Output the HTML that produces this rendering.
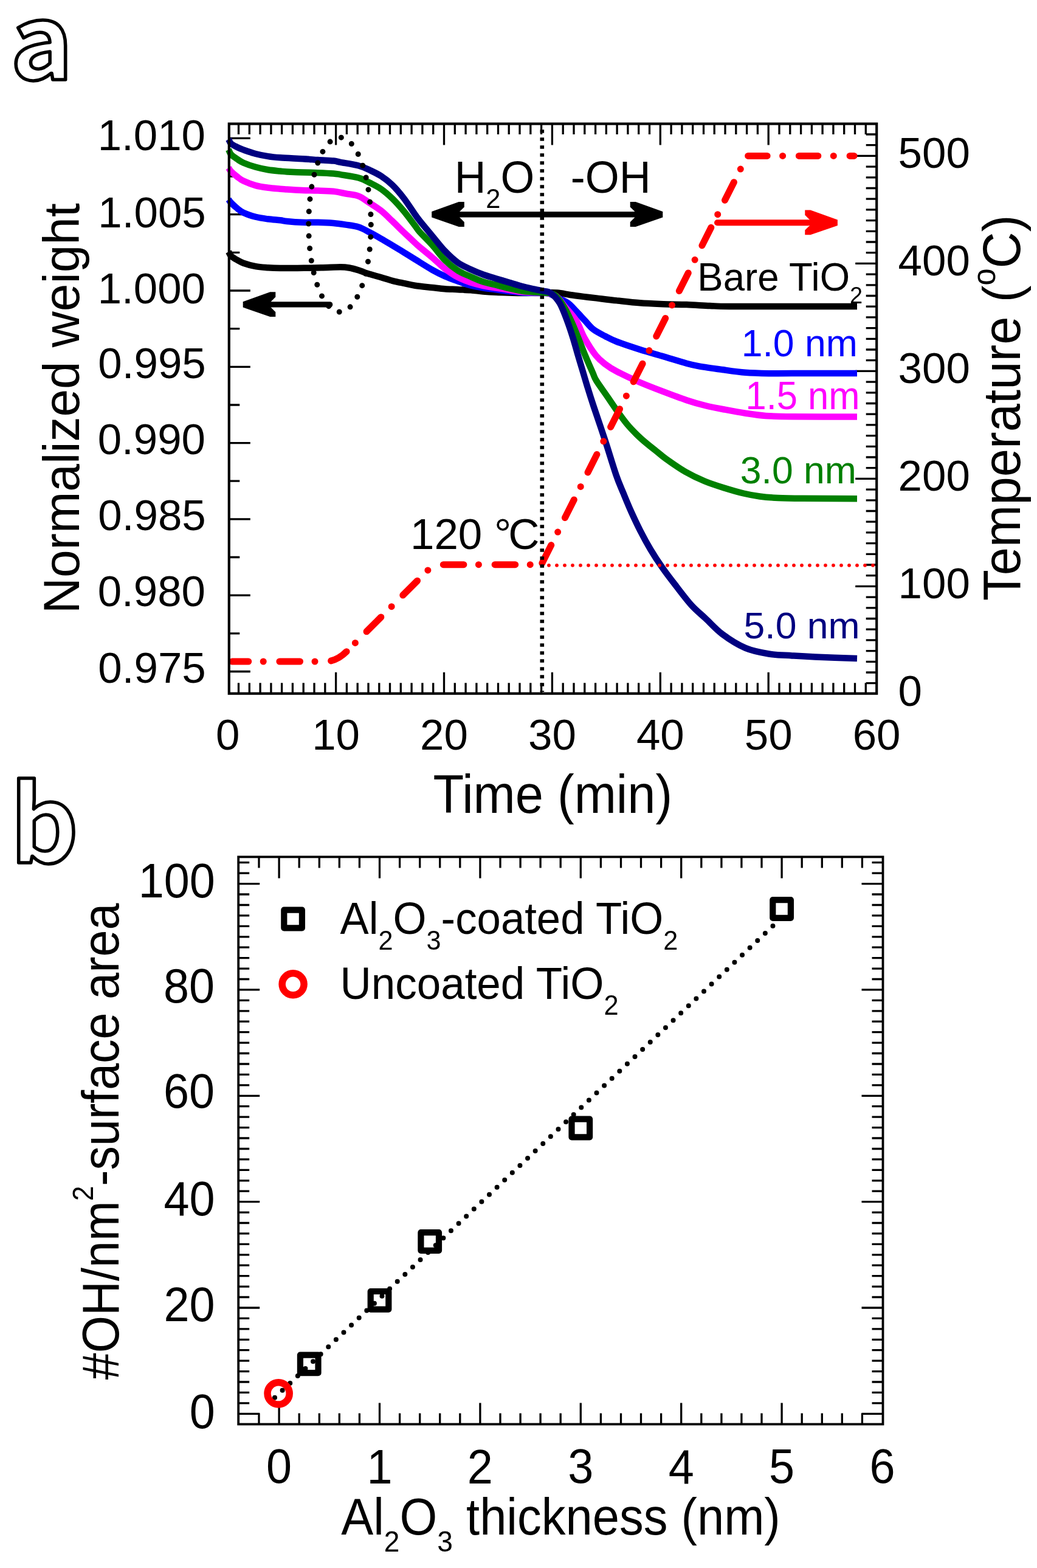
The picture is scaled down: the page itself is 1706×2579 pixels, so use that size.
<!DOCTYPE html><html><head><meta charset="utf-8"><title>Figure</title><style>html,body{margin:0;padding:0;background:#fff}svg{display:block}text{font-family:"Liberation Sans", Arial, sans-serif}</style></head><body>
<svg xmlns="http://www.w3.org/2000/svg" width="1706" height="2579" viewBox="0 0 1706 2579">
<rect width="1706" height="2579" fill="#fff"/>
<text transform="translate(17.3 130.6) scale(1 0.98)" style="font-family:'Noto Sans CJK JP','Noto Sans CJK SC',sans-serif" font-weight="bold" font-size="174" fill="#fff" stroke="#000" stroke-width="5.6" stroke-linejoin="round">a</text>
<text transform="translate(17.1 1419.2) scale(1 1)" style="font-family:'Noto Sans CJK JP','Noto Sans CJK SC',sans-serif" font-weight="bold" font-size="174" fill="#fff" stroke="#000" stroke-width="5.6" stroke-linejoin="round">b</text>
<path d="M392.5 1140.7V1123.2M392.5 203.6V221.1M410.3 1140.7V1123.2M410.3 203.6V221.1M428.1 1140.7V1123.2M428.1 203.6V221.1M445.9 1140.7V1123.2M445.9 203.6V221.1M463.6 1140.7V1123.2M463.6 203.6V221.1M481.4 1140.7V1123.2M481.4 203.6V221.1M499.2 1140.7V1123.2M499.2 203.6V221.1M517 1140.7V1123.2M517 203.6V221.1M534.8 1140.7V1123.2M534.8 203.6V221.1M552.6 1140.7V1105.7M552.6 203.6V238.6M570.4 1140.7V1123.2M570.4 203.6V221.1M588.2 1140.7V1123.2M588.2 203.6V221.1M606 1140.7V1123.2M606 203.6V221.1M623.8 1140.7V1123.2M623.8 203.6V221.1M641.5 1140.7V1123.2M641.5 203.6V221.1M659.3 1140.7V1123.2M659.3 203.6V221.1M677.1 1140.7V1123.2M677.1 203.6V221.1M694.9 1140.7V1123.2M694.9 203.6V221.1M712.7 1140.7V1123.2M712.7 203.6V221.1M730.5 1140.7V1105.7M730.5 203.6V238.6M748.3 1140.7V1123.2M748.3 203.6V221.1M766.1 1140.7V1123.2M766.1 203.6V221.1M783.9 1140.7V1123.2M783.9 203.6V221.1M801.7 1140.7V1123.2M801.7 203.6V221.1M819.5 1140.7V1123.2M819.5 203.6V221.1M837.2 1140.7V1123.2M837.2 203.6V221.1M855 1140.7V1123.2M855 203.6V221.1M872.8 1140.7V1123.2M872.8 203.6V221.1M890.6 1140.7V1123.2M890.6 203.6V221.1M908.4 1140.7V1105.7M908.4 203.6V238.6M926.2 1140.7V1123.2M926.2 203.6V221.1M944 1140.7V1123.2M944 203.6V221.1M961.8 1140.7V1123.2M961.8 203.6V221.1M979.6 1140.7V1123.2M979.6 203.6V221.1M997.3 1140.7V1123.2M997.3 203.6V221.1M1015.1 1140.7V1123.2M1015.1 203.6V221.1M1032.9 1140.7V1123.2M1032.9 203.6V221.1M1050.7 1140.7V1123.2M1050.7 203.6V221.1M1068.5 1140.7V1123.2M1068.5 203.6V221.1M1086.3 1140.7V1105.7M1086.3 203.6V238.6M1104.1 1140.7V1123.2M1104.1 203.6V221.1M1121.9 1140.7V1123.2M1121.9 203.6V221.1M1139.7 1140.7V1123.2M1139.7 203.6V221.1M1157.5 1140.7V1123.2M1157.5 203.6V221.1M1175.2 1140.7V1123.2M1175.2 203.6V221.1M1193 1140.7V1123.2M1193 203.6V221.1M1210.8 1140.7V1123.2M1210.8 203.6V221.1M1228.6 1140.7V1123.2M1228.6 203.6V221.1M1246.4 1140.7V1123.2M1246.4 203.6V221.1M1264.2 1140.7V1105.7M1264.2 203.6V238.6M1282 1140.7V1123.2M1282 203.6V221.1M1299.8 1140.7V1123.2M1299.8 203.6V221.1M1317.6 1140.7V1123.2M1317.6 203.6V221.1M1335.4 1140.7V1123.2M1335.4 203.6V221.1M1353.1 1140.7V1123.2M1353.1 203.6V221.1M1370.9 1140.7V1123.2M1370.9 203.6V221.1M1388.7 1140.7V1123.2M1388.7 203.6V221.1M1406.5 1140.7V1123.2M1406.5 203.6V221.1M1424.3 1140.7V1123.2M1424.3 203.6V221.1M376.8 227.4H411.8M376.8 290.1H394.3M376.8 352.7H411.8M376.8 415.4H394.3M376.8 478H411.8M376.8 540.6H394.3M376.8 603.3H411.8M376.8 666H394.3M376.8 728.6H411.8M376.8 791.2H394.3M376.8 853.9H411.8M376.8 916.5H394.3M376.8 979.2H411.8M376.8 1041.8H394.3M376.8 1104.5H411.8M1442.2 1123.7H1424.7M1442.2 1106H1424.7M1442.2 1088.3H1424.7M1442.2 1070.6H1424.7M1442.2 1052.9H1424.7M1442.2 1035.2H1424.7M1442.2 1017.5H1424.7M1442.2 999.8H1424.7M1442.2 982.1H1424.7M1442.2 964.4H1407.2M1442.2 946.7H1424.7M1442.2 929H1424.7M1442.2 911.3H1424.7M1442.2 893.6H1424.7M1442.2 875.9H1424.7M1442.2 858.2H1424.7M1442.2 840.5H1424.7M1442.2 822.8H1424.7M1442.2 805.1H1424.7M1442.2 787.4H1407.2M1442.2 769.7H1424.7M1442.2 752H1424.7M1442.2 734.3H1424.7M1442.2 716.6H1424.7M1442.2 698.9H1424.7M1442.2 681.2H1424.7M1442.2 663.5H1424.7M1442.2 645.8H1424.7M1442.2 628.1H1424.7M1442.2 610.4H1407.2M1442.2 592.7H1424.7M1442.2 575H1424.7M1442.2 557.3H1424.7M1442.2 539.6H1424.7M1442.2 521.9H1424.7M1442.2 504.2H1424.7M1442.2 486.5H1424.7M1442.2 468.8H1424.7M1442.2 451.1H1424.7M1442.2 433.4H1407.2M1442.2 415.7H1424.7M1442.2 398H1424.7M1442.2 380.3H1424.7M1442.2 362.6H1424.7M1442.2 344.9H1424.7M1442.2 327.2H1424.7M1442.2 309.5H1424.7M1442.2 291.8H1424.7M1442.2 274.1H1424.7M1442.2 256.4H1407.2M1442.2 238.7H1424.7M1442.2 221H1424.7" stroke="#000" stroke-width="3.3" fill="none"/>
<g fill="none" stroke-width="10.5" stroke-linejoin="round">
<path d="M376 414 C376.7 415.2 377.8 418.8 380.1 421 C382.4 423.2 386.6 425.6 390 427.5 C393.4 429.4 395.3 430.9 400.4 432.7 C405.5 434.5 413.9 436.9 420.6 438.2 C427.4 439.5 434.1 439.8 440.9 440.3 C447.6 440.8 451.2 441 461.1 441.1 C471 441.2 488.8 440.9 500 440.8 C511.2 440.7 518.6 440.6 528.6 440.3 C538.6 440.1 552.4 439.3 560 439.3 C567.6 439.3 569.5 439.6 574.5 440.5 C579.5 441.4 584.3 442.8 590 444.6 C595.7 446.4 602.4 449.2 608.6 451.1 C614.8 453 620.9 454.4 627.1 456.2 C633.3 458 639.5 460.2 645.7 461.8 C651.9 463.4 658 464.6 664.2 465.9 C670.4 467.2 675 468.6 682.8 469.8 C690.6 471 702.9 472.1 711.1 473 C719.3 473.9 725.1 474.7 732.1 475.2 C739.1 475.7 746.2 475.8 753.2 476.2 C760.2 476.6 767.2 476.8 774.2 477.3 C781.2 477.9 788 478.9 795 479.5 C802 480.1 809 480.5 816 480.8 C823 481.1 830.1 481.3 837.1 481.5 C844.1 481.7 848.9 482 858.2 482 C867.5 482 883.3 481.6 893 481.5 C902.7 481.4 909 480.9 916.5 481.5 C924 482.1 930.8 483.9 938 485 C945.2 486.1 952.4 487 959.6 487.9 C966.8 488.8 971.9 489.3 981.1 490.4 C990.3 491.5 1002.8 493.1 1014.8 494.4 C1026.8 495.7 1040.2 497.3 1053 498.3 C1065.8 499.3 1078.5 499.7 1091.3 500.2 C1104.1 500.7 1116.8 500.6 1129.6 501.1 C1142.3 501.6 1156.1 502.5 1167.8 503 C1179.5 503.5 1178 503.8 1200 504 C1222 504.2 1265 504 1300 504 C1335 504 1391.7 504 1410 504" stroke="#000"/>
<path d="M376 328 C376.7 328.9 377.8 331.1 380.1 333.5 C382.4 335.9 386.6 339.8 390 342.5 C393.4 345.2 395.3 347.3 400.4 349.7 C405.5 352.1 413.9 355 420.6 356.8 C427.4 358.6 434.1 359.4 440.9 360.3 C447.6 361.2 455.9 361.7 461.1 362.3 C466.3 362.9 465.9 363.4 472 364 C478.1 364.6 489 365.5 497.5 365.8 C506 366.1 514.5 365.6 523 365.8 C531.5 366 540.9 366.4 548.6 367 C556.3 367.6 562.1 368.5 569 369.6 C575.9 370.7 583.4 371.5 590 373.6 C596.6 375.7 602.4 379.2 608.6 382.4 C614.8 385.6 620.9 389.1 627.1 392.7 C633.3 396.3 639.5 400.1 645.7 403.8 C651.9 407.5 658 411.1 664.2 414.9 C670.4 418.7 675 421.7 682.8 426.5 C690.6 431.3 702.9 439.2 711.1 443.8 C719.3 448.4 725.1 451.3 732.1 454.4 C739.1 457.5 746.2 460 753.2 462.5 C760.2 465 767.2 467.7 774.2 469.5 C781.2 471.3 788 472.4 795 473.5 C802 474.6 809 475.4 816 476.3 C823 477.2 830.1 478.3 837.1 479.1 C844.1 479.9 851.1 480.8 858.2 481.3 C865.4 481.8 872.7 481.8 880 482 C887.3 482.2 895.7 481.2 902 482.5 C908.3 483.8 912.5 487.3 918 490 C923.5 492.7 929.8 495 934.8 498.7 C939.8 502.4 943.4 507.2 948 512 C952.6 516.8 957.7 522.4 962.4 527.4 C967.1 532.4 970.5 537.4 976 541.7 C981.5 546 989.2 549.6 995.7 553 C1002.2 556.4 1005.2 558.3 1014.8 562 C1024.3 565.7 1040.2 571 1053 575 C1065.8 579 1078.5 582.5 1091.3 586.3 C1104.1 590.1 1119.8 595 1129.6 597.7 C1139.4 600.4 1140.2 600.6 1150 602.3 C1159.8 604 1175.5 606.2 1188.3 608 C1201 609.8 1213.8 611.8 1226.5 612.8 C1239.2 613.8 1252 614 1264.8 614.2 C1277.5 614.4 1278.8 614 1303 614 C1327.2 614 1392.2 614 1410 614" stroke="#00f"/>
<path d="M376 276 C376.7 277 377.8 279.5 380.1 281.9 C382.4 284.3 386.6 287.9 390 290.5 C393.4 293.1 395.3 295.2 400.4 297.6 C405.5 300 413.9 303.2 420.6 305.1 C427.4 307 434.1 307.8 440.9 308.7 C447.6 309.6 455.9 310.2 461.1 310.7 C466.3 311.2 465.9 311.1 472 311.5 C478.1 311.9 489 312.6 497.5 312.9 C506 313.2 514.5 313.2 523 313.5 C531.5 313.8 540.9 314 548.6 314.8 C556.3 315.6 562.1 317.2 569 318.5 C575.9 319.8 583.4 320 590 322.6 C596.6 325.2 602.4 330.2 608.6 334.2 C614.8 338.2 620.9 341.8 627.1 346.7 C633.3 351.6 639.5 358 645.7 363.9 C651.9 369.8 658 376.1 664.2 382 C670.4 387.9 678.5 395.5 682.8 399.5 C687.1 403.5 685.3 402 690 406 C694.7 410 704.1 417.5 711.1 423.5 C718.1 429.5 725.1 436.6 732.1 442 C739.1 447.4 746.2 452.2 753.2 456 C760.2 459.8 767.2 462.2 774.2 464.5 C781.2 466.8 788 468.5 795 470 C802 471.5 809 472.4 816 473.5 C823 474.6 830.1 475.7 837.1 476.8 C844.1 477.9 851.1 479.3 858.2 480 C865.4 480.7 873 480.9 880 481.2 C887 481.5 894.2 481 900 482 C905.8 483 910 483.2 915 487 C920 490.8 924.5 498.3 930 505 C935.5 511.7 942.8 518.9 948.1 527.4 C953.4 535.9 956.3 546.5 961.7 556.1 C967.1 565.7 974.7 577.6 980.4 584.8 C986.1 591.9 990 594.6 995.7 599 C1001.4 603.4 1005.2 606 1014.8 611 C1024.3 616 1040.2 623.5 1053 629 C1065.8 634.5 1078.5 639.3 1091.3 644.2 C1104.1 649.1 1118.1 654.4 1129.6 658.2 C1141 662 1149.7 664.5 1160 667 C1170.3 669.5 1180.2 671.4 1191.3 673.5 C1202.4 675.6 1215 678 1226.5 679.7 C1238 681.5 1247.2 683.1 1260 684 C1272.8 684.9 1278 685 1303 685.3 C1328 685.5 1392.2 685.5 1410 685.5" stroke="#f0f"/>
<path d="M376 246 C376.7 247.3 377.8 251.4 380.1 254 C382.4 256.6 386.6 259.2 390 261.5 C393.4 263.8 395.3 265.5 400.4 267.7 C405.5 269.9 413.9 272.9 420.6 274.8 C427.4 276.7 434.1 278.2 440.9 279.3 C447.6 280.4 455.9 281 461.1 281.5 C466.3 282 465.9 282.1 472 282.4 C478.1 282.7 489 283.2 497.5 283.5 C506 283.8 514.5 283.9 523 284.2 C531.5 284.5 542.4 285 548.6 285.5 C554.8 286 553.1 285.9 560 287.1 C566.9 288.3 581.9 290.2 590 292.5 C598.1 294.8 602.4 297.7 608.6 300.8 C614.8 303.9 620.9 306.7 627.1 311 C633.3 315.3 639.5 320.8 645.7 326.8 C651.9 332.8 658 339.8 664.2 347.2 C670.4 354.6 678.5 365.7 682.8 371.3 C687.1 376.9 685.3 375.7 690 381 C694.7 386.3 704.1 395.2 711.1 403 C718.1 410.8 725.1 421 732.1 428 C739.1 435 746.2 440.5 753.2 445 C760.2 449.5 767.2 451.9 774.2 455 C781.2 458.1 788 461.2 795 463.5 C802 465.8 809 466.8 816 468.6 C823 470.4 830.1 472.6 837.1 474.2 C844.1 475.8 851.1 477.4 858.2 478.5 C865.4 479.6 873.5 480 880 480.5 C886.5 481 891.7 480.8 897 481.5 C902.3 482.2 907.3 481.9 912 485 C916.7 488.1 920.4 492.9 925 500 C929.6 507.1 935.2 518.2 939.5 527.4 C943.8 536.6 947.1 545.4 951 555 C954.9 564.6 958.8 575 962.8 584.8 C966.8 594.5 972.3 606.6 975.3 613.5 C978.3 620.4 976.9 619.3 981 626 C985.1 632.7 994.2 645 1000 653.5 C1005.8 662 1010.6 669.3 1015.9 676.7 C1021.2 684.1 1026.6 691.6 1031.9 698 C1037.2 704.4 1042.5 709.7 1047.8 714.9 C1053.1 720.1 1058.5 724.8 1063.8 729.3 C1069.1 733.8 1074.4 737.8 1079.7 742 C1085 746.2 1087.7 749.1 1095.7 754.8 C1103.7 760.5 1117 769.9 1127.6 776 C1138.2 782.1 1148.8 787.1 1159.4 791.5 C1170 795.9 1180.7 799.2 1191.3 802.5 C1201.9 805.8 1213.4 809.2 1223.2 811.5 C1233 813.8 1240.5 815.2 1250 816.5 C1259.5 817.8 1268.3 818.5 1280 819 C1291.7 819.5 1298.3 819.6 1320 819.8 C1341.7 820 1395 820.1 1410 820.2" stroke="#008000"/>
<path d="M376 229 C376.7 230.2 377.8 234.1 380.1 236.3 C382.4 238.5 386.6 240.3 390 242 C393.4 243.7 395.3 244.6 400.4 246.4 C405.5 248.2 413.9 251.2 420.6 253 C427.4 254.8 434.1 256.1 440.9 257.1 C447.6 258.2 451.7 258.6 461.1 259.3 C470.5 260 487.2 260.6 497.5 261.2 C507.8 261.8 514.5 262.5 523 263.1 C531.5 263.7 542.4 264 548.6 264.6 C554.8 265.2 553.1 265.5 560 266.8 C566.9 268.1 581.9 270.3 590 272.5 C598.1 274.7 602.4 277.1 608.6 280 C614.8 282.9 620.9 285.6 627.1 289.7 C633.3 293.8 639.5 298.5 645.7 304.5 C651.9 310.5 658 317.8 664.2 325.9 C670.4 333.9 678.5 346.7 682.8 352.8 C687.1 358.9 685.3 356.6 690 362.5 C694.7 368.4 704.1 379.6 711.1 388 C718.1 396.4 725.1 405.7 732.1 413 C739.1 420.3 746.2 427 753.2 432 C760.2 437 767.2 439.7 774.2 443 C781.2 446.3 788.3 449.2 795.3 451.7 C802.3 454.2 809 456.1 816 458.2 C823 460.3 830.1 462.4 837.1 464.5 C844.1 466.6 851.2 468.9 858.2 470.8 C865.2 472.7 873.4 474.4 879.2 475.7 C885 477 888.7 477.4 893.2 478.5 C897.7 479.6 901.4 478.6 906 482 C910.6 485.4 916.3 491.1 920.8 498.7 C925.3 506.3 929.4 517.8 933 527.4 C936.6 537 939.7 546.5 942.7 556.1 C945.7 565.7 948.2 575.2 951 584.8 C953.8 594.4 957.1 605.1 959.6 613.5 C962.1 621.9 963.2 625.9 966 635 C968.8 644.1 971.5 653 976.5 668 C981.5 683 989.5 706.1 995.7 725 C1001.9 743.9 1008.6 766.7 1013.6 781.2 C1018.6 795.7 1021.6 801.6 1025.8 811.8 C1030 822 1034.2 832.3 1038.8 842.5 C1043.4 852.7 1048.2 862.9 1053.4 873.1 C1058.6 883.3 1064.1 893.5 1070.2 903.7 C1076.3 913.9 1082.9 924.1 1090.1 934.3 C1097.2 944.5 1105.2 954.7 1113.1 964.9 C1121 975.1 1129.7 986.8 1137.6 995.5 C1145.5 1004.2 1152 1009.1 1160.5 1017 C1169 1024.9 1177.3 1034.8 1188.3 1043 C1199.3 1051.2 1213.8 1060.5 1226.5 1065.9 C1239.2 1071.3 1252 1073.4 1264.8 1075.5 C1277.5 1077.6 1290.3 1077.6 1303 1078.4 C1315.7 1079.2 1323.2 1079.7 1341 1080.5 C1358.8 1081.3 1398.5 1082.6 1410 1083" stroke="#000080"/>
</g>
<g fill="none" stroke="#f00" stroke-width="11" stroke-linecap="round" stroke-linejoin="round">
<path d="M382 1088 L535 1088 Q553.8 1088 570.1 1071.7" stroke-dasharray="33.6 24.5 0 26.7" stroke-dashoffset="6.9"/>
<path d="M570.1 1071.7 L706 935.8 Q713.5 928.3 724 928.5" stroke-dasharray="33.6 24.5 0 26.4" stroke-dashoffset="37.9"/>
<path d="M724 928.7 L890.6 928.7" stroke-dasharray="33.6 24.5 0 26.7" stroke-dashoffset="-5.3"/>
<path d="M890.6 928.7 L1229.2 256.4" stroke-dasharray="33.1 24.2 0 26.25" stroke-dashoffset="-2.8"/>
<path d="M1229.2 256.4 L1405 256.4" stroke-dasharray="31.4 25.5 0 26.8" stroke-dashoffset="-1.5"/>
</g>
<path d="M890.6 929.8H1440" stroke="#f00" stroke-width="5.8" stroke-linecap="round" stroke-dasharray="0 13" stroke-dashoffset="0.6" fill="none"/>
<path d="M891.8 212V1138" stroke="#000" stroke-width="6.6" stroke-dasharray="5.6 7.4" stroke-dashoffset="-1.2" fill="none"/>
<ellipse cx="559" cy="369.5" rx="51.3" ry="143.5" fill="none" stroke="#000" stroke-width="9" stroke-linecap="round" stroke-dasharray="0 20.3"/>
<g fill="#000">
<polygon points="710.2,348.1 754.8,332.1 763.8,332.1 763.8,340.4 756.1,348.1 756.1,357.5 763.8,365.2 763.8,372.9 754.8,372.9 710.2,357.5"/>
<polygon points="1090.3,348.1 1045.7,332.1 1036.7,332.1 1036.7,340.4 1044.4,348.1 1044.4,357.5 1036.7,365.2 1036.7,372.9 1045.7,372.9 1090.3,357.5"/>
<rect x="750" y="348.1" width="300" height="9.4"/>
<polygon points="399.7,496.2 444.3,480.2 453.3,480.2 453.3,488.5 445.6,496.2 445.6,505.6 453.3,513.3 453.3,521 444.3,521 399.7,505.6"/>
<path d="M445 500.9H542.6" stroke="#000" stroke-width="9.4" stroke-linecap="round"/>
</g>
<g fill="#f00"><polygon points="1377.9,361.5 1333.3,345.5 1324.3,345.5 1324.3,353.8 1332,361.5 1332,370.9 1324.3,378.6 1324.3,386.3 1333.3,386.3 1377.9,370.9"/><path d="M1180 366.2H1330" stroke="#f00" stroke-width="10" stroke-linecap="round"/></g>
<rect x="376.8" y="203.6" width="1065.4" height="937.1" fill="none" stroke="#000" stroke-width="4.2"/>
<path d="M426 2342.5V2324.5M426 1409.4V1427.4M459.1 2342.5V2307.5M459.1 1409.4V1444.4M492.2 2342.5V2324.5M492.2 1409.4V1427.4M525.3 2342.5V2324.5M525.3 1409.4V1427.4M558.3 2342.5V2324.5M558.3 1409.4V1427.4M591.4 2342.5V2324.5M591.4 1409.4V1427.4M624.5 2342.5V2307.5M624.5 1409.4V1444.4M657.6 2342.5V2324.5M657.6 1409.4V1427.4M690.7 2342.5V2324.5M690.7 1409.4V1427.4M723.7 2342.5V2324.5M723.7 1409.4V1427.4M756.8 2342.5V2324.5M756.8 1409.4V1427.4M789.9 2342.5V2307.5M789.9 1409.4V1444.4M823 2342.5V2324.5M823 1409.4V1427.4M856.1 2342.5V2324.5M856.1 1409.4V1427.4M889.1 2342.5V2324.5M889.1 1409.4V1427.4M922.2 2342.5V2324.5M922.2 1409.4V1427.4M955.3 2342.5V2307.5M955.3 1409.4V1444.4M988.4 2342.5V2324.5M988.4 1409.4V1427.4M1021.5 2342.5V2324.5M1021.5 1409.4V1427.4M1054.5 2342.5V2324.5M1054.5 1409.4V1427.4M1087.6 2342.5V2324.5M1087.6 1409.4V1427.4M1120.7 2342.5V2307.5M1120.7 1409.4V1444.4M1153.8 2342.5V2324.5M1153.8 1409.4V1427.4M1186.9 2342.5V2324.5M1186.9 1409.4V1427.4M1219.9 2342.5V2324.5M1219.9 1409.4V1427.4M1253 2342.5V2324.5M1253 1409.4V1427.4M1286.1 2342.5V2307.5M1286.1 1409.4V1444.4M1319.2 2342.5V2324.5M1319.2 1409.4V1427.4M1352.3 2342.5V2324.5M1352.3 1409.4V1427.4M1385.3 2342.5V2324.5M1385.3 1409.4V1427.4M1418.4 2342.5V2324.5M1418.4 1409.4V1427.4M392.2 2325.3H427.2M1452.5 2325.3H1417.5M392.2 2307.9H410.2M1452.5 2307.9H1434.5M392.2 2290.4H410.2M1452.5 2290.4H1434.5M392.2 2273H410.2M1452.5 2273H1434.5M392.2 2255.6H410.2M1452.5 2255.6H1434.5M392.2 2238.1H410.2M1452.5 2238.1H1434.5M392.2 2220.7H410.2M1452.5 2220.7H1434.5M392.2 2203.3H410.2M1452.5 2203.3H1434.5M392.2 2185.8H410.2M1452.5 2185.8H1434.5M392.2 2168.4H410.2M1452.5 2168.4H1434.5M392.2 2151H427.2M1452.5 2151H1417.5M392.2 2133.5H410.2M1452.5 2133.5H1434.5M392.2 2116.1H410.2M1452.5 2116.1H1434.5M392.2 2098.7H410.2M1452.5 2098.7H1434.5M392.2 2081.2H410.2M1452.5 2081.2H1434.5M392.2 2063.8H410.2M1452.5 2063.8H1434.5M392.2 2046.4H410.2M1452.5 2046.4H1434.5M392.2 2028.9H410.2M1452.5 2028.9H1434.5M392.2 2011.5H410.2M1452.5 2011.5H1434.5M392.2 1994.1H410.2M1452.5 1994.1H1434.5M392.2 1976.6H427.2M1452.5 1976.6H1417.5M392.2 1959.2H410.2M1452.5 1959.2H1434.5M392.2 1941.8H410.2M1452.5 1941.8H1434.5M392.2 1924.3H410.2M1452.5 1924.3H1434.5M392.2 1906.9H410.2M1452.5 1906.9H1434.5M392.2 1889.5H410.2M1452.5 1889.5H1434.5M392.2 1872H410.2M1452.5 1872H1434.5M392.2 1854.6H410.2M1452.5 1854.6H1434.5M392.2 1837.1H410.2M1452.5 1837.1H1434.5M392.2 1819.7H410.2M1452.5 1819.7H1434.5M392.2 1802.3H427.2M1452.5 1802.3H1417.5M392.2 1784.8H410.2M1452.5 1784.8H1434.5M392.2 1767.4H410.2M1452.5 1767.4H1434.5M392.2 1750H410.2M1452.5 1750H1434.5M392.2 1732.5H410.2M1452.5 1732.5H1434.5M392.2 1715.1H410.2M1452.5 1715.1H1434.5M392.2 1697.7H410.2M1452.5 1697.7H1434.5M392.2 1680.2H410.2M1452.5 1680.2H1434.5M392.2 1662.8H410.2M1452.5 1662.8H1434.5M392.2 1645.4H410.2M1452.5 1645.4H1434.5M392.2 1627.9H427.2M1452.5 1627.9H1417.5M392.2 1610.5H410.2M1452.5 1610.5H1434.5M392.2 1593.1H410.2M1452.5 1593.1H1434.5M392.2 1575.6H410.2M1452.5 1575.6H1434.5M392.2 1558.2H410.2M1452.5 1558.2H1434.5M392.2 1540.8H410.2M1452.5 1540.8H1434.5M392.2 1523.3H410.2M1452.5 1523.3H1434.5M392.2 1505.9H410.2M1452.5 1505.9H1434.5M392.2 1488.5H410.2M1452.5 1488.5H1434.5M392.2 1471H410.2M1452.5 1471H1434.5M392.2 1453.6H427.2M1452.5 1453.6H1417.5M392.2 1436.2H410.2M1452.5 1436.2H1434.5M392.2 1418.7H410.2M1452.5 1418.7H1434.5" stroke="#000" stroke-width="3.3" fill="none"/>
<path d="M452 2298.8L1273.2 1521.4" stroke="#000" stroke-width="8" stroke-linecap="round" stroke-dasharray="0 17.36" fill="none"/>
<g fill="none" stroke="#000" stroke-width="10.2" stroke-linejoin="round">
<rect x="493.9" y="2228.6" width="29.6" height="29.6"/>
<rect x="609.7" y="2124" width="29.6" height="29.6"/>
<rect x="692.4" y="2027.2" width="29.6" height="29.6"/>
<rect x="940.5" y="1840.7" width="29.6" height="29.6"/>
<rect x="1271.3" y="1480.2" width="29.6" height="29.6"/>
<rect x="467.3" y="1496.7" width="29.6" height="29.6"/>
</g>
<g fill="none" stroke="#f00" stroke-width="11.5">
<circle cx="458.1" cy="2291.9" r="18.1"/>
<circle cx="482.1" cy="1618.8" r="18"/>
</g>
<rect x="392.2" y="1409.4" width="1060.3" height="933.1" fill="none" stroke="#000" stroke-width="3.8"/>
<text transform="matrix(0.9846 0.0000 0.0000 0.9904 338.0537 246.8096)" font-size="72" text-anchor="end">1.010</text>
<text transform="matrix(0.9846 0.0000 0.0000 0.9904 338.7537 374.0596)" font-size="72" text-anchor="end">1.005</text>
<text transform="matrix(0.9846 0.0000 0.0000 0.9904 338.0537 498.5096)" font-size="72" text-anchor="end">1.000</text>
<text transform="matrix(0.9846 0.0000 0.0000 0.9904 338.7537 622.4596)" font-size="72" text-anchor="end">0.995</text>
<text transform="matrix(0.9846 0.0000 0.0000 0.9904 338.0537 747.0096)" font-size="72" text-anchor="end">0.990</text>
<text transform="matrix(0.9846 0.0000 0.0000 0.9904 338.7537 872.1096)" font-size="72" text-anchor="end">0.985</text>
<text transform="matrix(0.9846 0.0000 0.0000 0.9904 338.0537 997.0096)" font-size="72" text-anchor="end">0.980</text>
<text transform="matrix(0.9846 0.0000 0.0000 0.9904 338.7537 1123.2096)" font-size="72" text-anchor="end">0.975</text>
<text transform="matrix(0.9846 0.0000 0.0000 0.9904 374.7000 1232.9596)" font-size="72" text-anchor="middle">0</text>
<text transform="matrix(0.9846 0.0000 0.0000 0.9904 552.6000 1232.9596)" font-size="72" text-anchor="middle">10</text>
<text transform="matrix(0.9846 0.0000 0.0000 0.9904 730.5000 1232.9596)" font-size="72" text-anchor="middle">20</text>
<text transform="matrix(0.9846 0.0000 0.0000 0.9904 908.4000 1232.9596)" font-size="72" text-anchor="middle">30</text>
<text transform="matrix(0.9846 0.0000 0.0000 0.9904 1086.3000 1232.9596)" font-size="72" text-anchor="middle">40</text>
<text transform="matrix(0.9846 0.0000 0.0000 0.9904 1264.2000 1232.9596)" font-size="72" text-anchor="middle">50</text>
<text transform="matrix(0.9846 0.0000 0.0000 0.9904 1442.1000 1232.9596)" font-size="72" text-anchor="middle">60</text>
<text transform="matrix(0.9846 0.0000 0.0000 0.9904 1477.6000 1161.3096)" font-size="72">0</text>
<text transform="matrix(0.9846 0.0000 0.0000 0.9904 1477.6000 984.3096)" font-size="72">100</text>
<text transform="matrix(0.9846 0.0000 0.0000 0.9904 1477.6000 807.3096)" font-size="72">200</text>
<text transform="matrix(0.9846 0.0000 0.0000 0.9904 1477.6000 630.3096)" font-size="72">300</text>
<text transform="matrix(0.9846 0.0000 0.0000 0.9904 1477.6000 453.3096)" font-size="72">400</text>
<text transform="matrix(0.9846 0.0000 0.0000 0.9904 1477.6000 276.3096)" font-size="72">500</text>
<text transform="matrix(0.9951 0.0000 0.0000 1.0266 747.6293 316.8000)" font-size="72">H<tspan font-size="43.7" dy="24.5">2</tspan><tspan dy="-24.5">O</tspan></text>
<text transform="matrix(1.0000 0.0000 0.0000 1.0266 938.8000 316.8000)" font-size="72">-OH</text>
<text transform="matrix(0.9846 0.0000 0.0000 0.9904 674.9863 903.1000)" font-size="72">120 °<tspan dx="-5">C</tspan></text>
<text transform="matrix(1.0251 0.0000 0.0000 1.0425 1147.3745 477.8000)" font-size="62">Bare TiO<tspan font-size="37" dy="20">2</tspan></text>
<text transform="matrix(1.0088 0.0000 0.0000 1.0285 1219.6648 586.0000)" font-size="62" fill="#00f">1.0 nm</text>
<text transform="matrix(0.9929 0.0000 0.0000 1.0496 1226.4286 673.0000)" font-size="62" fill="#f0f">1.5 nm</text>
<text transform="matrix(1.0087 0.0000 0.0000 1.0285 1217.7826 795.0000)" font-size="62" fill="#008000">3.0 nm</text>
<text transform="matrix(1.0082 0.0000 0.0000 0.9935 1223.5837 1050.3000)" font-size="62" fill="#000080">5.0 nm</text>
<text transform="matrix(0.9885 0.0000 0.0000 1.0559 712.5230 1336.5000)" font-size="84">Time (min)</text>
<text transform="matrix(0.0000 -0.9773 1.0024 0.0000 129.8000 1009.3414)" font-size="84">Normalized weight</text>
<text transform="matrix(0.0000 -0.9915 1.0386 0.0000 1677.8000 987.8829)" font-size="84">Temperature (<tspan font-size="51" dy="-39.5">o</tspan><tspan dy="39.5">C)</tspan></text>
<text transform="matrix(0.9700 0.0000 0.0000 1.0309 353.9100 1475.7191)" font-size="78" text-anchor="end">100</text>
<text transform="matrix(0.9700 0.0000 0.0000 1.0309 353.1100 1648.8191)" font-size="78" text-anchor="end">80</text>
<text transform="matrix(0.9700 0.0000 0.0000 1.0309 353.1100 1822.2191)" font-size="78" text-anchor="end">60</text>
<text transform="matrix(0.9700 0.0000 0.0000 1.0309 353.7100 1998.9191)" font-size="78" text-anchor="end">40</text>
<text transform="matrix(0.9700 0.0000 0.0000 1.0309 353.7100 2172.8345)" font-size="78" text-anchor="end">20</text>
<text transform="matrix(0.9700 0.0000 0.0000 1.0309 353.7100 2348.8191)" font-size="78" text-anchor="end">0</text>
<text transform="matrix(0.9700 0.0000 0.0000 1.0309 459.1000 2439.3691)" font-size="78" text-anchor="middle">0</text>
<text transform="matrix(0.9700 0.0000 0.0000 1.0309 624.5000 2439.8845)" font-size="78" text-anchor="middle">1</text>
<text transform="matrix(0.9700 0.0000 0.0000 1.0309 789.9000 2440.4000)" font-size="78" text-anchor="middle">2</text>
<text transform="matrix(0.9700 0.0000 0.0000 1.0309 955.3000 2439.3691)" font-size="78" text-anchor="middle">3</text>
<text transform="matrix(0.9700 0.0000 0.0000 1.0309 1120.7000 2439.8845)" font-size="78" text-anchor="middle">4</text>
<text transform="matrix(0.9700 0.0000 0.0000 1.0309 1286.1000 2439.3691)" font-size="78" text-anchor="middle">5</text>
<text transform="matrix(0.9700 0.0000 0.0000 1.0309 1451.5000 2439.3691)" font-size="78" text-anchor="middle">6</text>
<text transform="matrix(0.9826 0.0000 0.0000 1.0205 559.6000 1536.0000)" font-size="72">Al<tspan font-size="44" dy="25">2</tspan><tspan dy="-25">O</tspan><tspan font-size="44" dy="25">3</tspan><tspan dy="-25">-coated TiO</tspan><tspan font-size="44" dy="25">2</tspan></text>
<text transform="matrix(0.9860 0.0000 0.0000 1.0326 559.4699 1642.7000)" font-size="72">Uncoated TiO<tspan font-size="44" dy="25">2</tspan></text>
<text transform="matrix(0.9814 0.0000 0.0000 1.0413 561.2000 2524.1000)" font-size="81">Al<tspan font-size="47" dy="27">2</tspan><tspan dy="-27">O</tspan><tspan font-size="47" dy="27">3</tspan><tspan dy="-27"> thickness (nm)</tspan></text>
<text transform="matrix(0.0000 -0.9628 1.0375 0.0000 195.2000 2269.2000)" font-size="82">#OH/nm<tspan font-size="46" dy="-40.6">2</tspan><tspan dy="40.6">-surface area</tspan></text>
</svg></body></html>
